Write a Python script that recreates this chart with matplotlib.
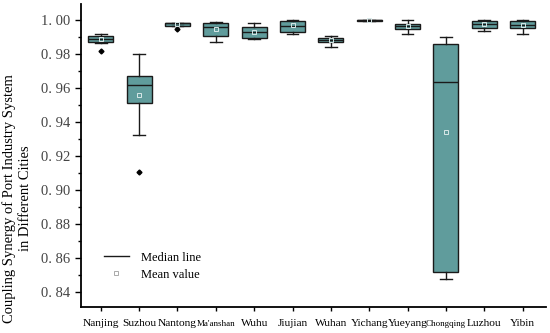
import matplotlib.pyplot as plt
from matplotlib.lines import Line2D
from matplotlib.ticker import MultipleLocator, FuncFormatter

# box statistics
cities = ["Nanjing", "Suzhou", "Nantong", "Ma'anshan", "Wuhu", "Jiujian",
          "Wuhan", "Yichang", "Yueyang", "Chongqing", "Luzhou", "Yibin"]
whis_lo = [0.9866, 0.932, 0.9965, 0.987, 0.9889, 0.992, 0.9843, 0.9993, 0.992, 0.8476, 0.9935, 0.992]
q1 = [0.9872, 0.951, 0.9966, 0.9908, 0.9892, 0.9931, 0.9869, 0.9995, 0.9949, 0.8516, 0.9953, 0.9953]
medians = [0.9890, 0.962, 0.9980, 0.9957, 0.9931, 0.9967, 0.9880, 0.9997, 0.9965, 0.9635, 0.9975, 0.9970]
q3 = [0.9906, 0.967, 0.9980, 0.9984, 0.9957, 0.9996, 0.9894, 0.9999, 0.9976, 0.9857, 0.9996, 0.9994]
whis_hi = [0.9916, 0.980, 0.9985, 0.999, 0.998, 0.9998, 0.9908, 1.0, 0.9998, 0.990, 0.9998, 1.0]
means = [0.9890, 0.956, 0.9978, 0.9945, 0.9930, 0.9970, 0.9880, 0.9997, 0.9965, 0.9343, 0.9975, 0.9970]
outliers = [[0.982], [0.9106], [0.9945], [], [], [], [], [], [], [], [], []]

BOX_COLOR = "#609c9c"

plt.rcParams["font.family"] = ["Liberation Serif", "DejaVu Serif"]

fig = plt.figure(figsize=(5.5, 3.33), dpi=100)
ax = fig.add_axes([0.147, 0.078, 0.845, 0.91])

stats = []
for i, name in enumerate(cities):
    stats.append({
        "label": name,
        "whislo": whis_lo[i],
        "q1": q1[i],
        "med": medians[i],
        "q3": q3[i],
        "whishi": whis_hi[i],
        "mean": means[i],
        "fliers": outliers[i],
    })

ax.bxp(
    stats,
    widths=0.65,
    patch_artist=True,
    showmeans=True,
    boxprops={"facecolor": BOX_COLOR, "edgecolor": "#1a1a1a", "linewidth": 1.0},
    medianprops={"color": "#1a1a1a", "linewidth": 1.0},
    whiskerprops={"color": "#1a1a1a", "linewidth": 1.0},
    capprops={"color": "#1a1a1a", "linewidth": 1.0},
    capwidths=0.3,
    flierprops={"marker": "D", "markerfacecolor": "black", "markeredgecolor": "black",
                "markersize": 2.5},
    meanprops={"marker": "s", "markerfacecolor": "none", "markeredgecolor": "#d8e8e8",
               "markersize": 3, "markeredgewidth": 0.7},
)

ax.set_xlim(0.48, 12.6)
ax.set_ylim(0.831, 1.0094)

ax.yaxis.set_major_locator(MultipleLocator(0.02))
ax.yaxis.set_minor_locator(MultipleLocator(0.01))
ax.yaxis.set_major_formatter(FuncFormatter(lambda v, p: f"{v:.2f}".replace(".", ". ")))
ax.tick_params(axis="y", which="major", length=4, width=1.0, labelsize=10.5,
               labelcolor="#444444")
ax.tick_params(axis="y", which="minor", length=2.5, width=1.0)
ax.tick_params(axis="x", length=3, width=1.0, labelsize=8.2, pad=11)

# labels sit on a common baseline, two of them set smaller
for lbl in ax.get_xticklabels():
    lbl.set_verticalalignment("baseline")
    if lbl.get_text() in ("Ma'anshan", "Chongqing"):
        lbl.set_fontsize(6.5)

ax.spines["top"].set_visible(False)
ax.spines["right"].set_visible(False)
ax.spines["left"].set_linewidth(1.3)
ax.spines["bottom"].set_linewidth(1.3)

fig.text(0.031, 0.405,
         "Coupling Synergy of Port Industry System\nin Different Cities",
         rotation=90, ha="center", va="center", multialignment="center",
         fontsize=10.5, linespacing=1.3)

handles = [
    Line2D([], [], color="#1a1a1a", linewidth=1.0),
    Line2D([], [], linestyle="none", marker="s", markerfacecolor="none",
           markeredgecolor="#aaaaaa", markersize=3, markeredgewidth=0.7),
]
ax.legend(handles, ["Median line", "Mean value"], loc="lower left",
          bbox_to_anchor=(0.025, 0.05), frameon=False, fontsize=9,
          handlelength=2.0, handletextpad=1.0, labelspacing=0.4)

fig.savefig("out.png", dpi=100)
